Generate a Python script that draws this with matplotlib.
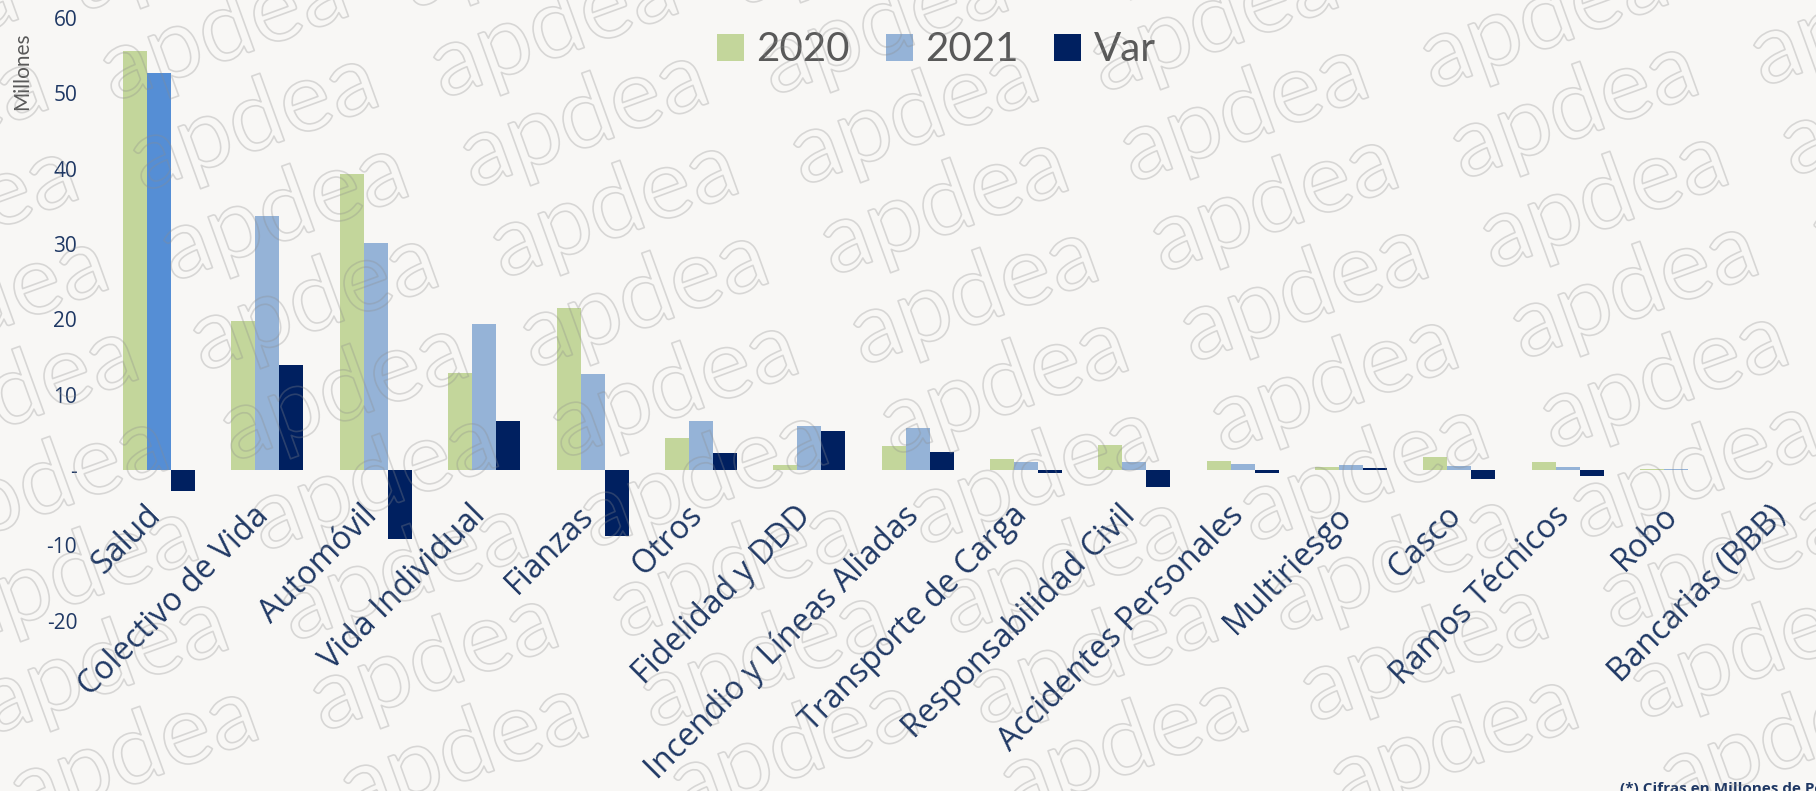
import numpy as np
import matplotlib
matplotlib.use("Agg")
import matplotlib.pyplot as plt
import matplotlib.patheffects as pe
from matplotlib.transforms import ScaledTranslation

# data (millones)
categorias = ["Salud", "Colectivo de Vida", "Automóvil", "Vida Individual", "Fianzas",
              "Otros", "Fidelidad y DDD", "Incendio y Líneas Aliadas", "Transporte de Carga",
              "Responsabilidad Civil", "Accidentes Personales", "Multiriesgo", "Casco",
              "Ramos Técnicos", "Robo", "Bancarias (BBB)"]
v2020 = [55.6, 19.8, 39.3, 12.9, 21.5, 4.3, 0.66, 3.2, 1.46, 3.3, 1.2, 0.35, 1.77, 1.1, 0.18, 0.03]
v2021 = [52.7, 33.7, 30.1, 19.4, 12.8, 6.5, 5.84, 5.6, 1.06, 1.06, 0.8, 0.66, 0.58, 0.35, 0.09, 0.06]
var = [-2.8, 13.9, -9.1, 6.5, -8.7, 2.3, 5.18, 2.4, -0.44, -2.2, -0.35, 0.25, -1.2, -0.75, -0.06, 0.03]

yticks = [60, 50, 40, 30, 20, 10, 0, -10, -20]
ylabels = ["60", "50", "40", "30", "20", "10", "-", "-10", "-20"]

bg = "#F8F7F5"
c2020 = "#C3D69B"
c2021 = "#95B3D7"
csalud = "#558ED5"
cvar = "#002060"
navy = "#1F3864"

fig = plt.figure(figsize=(18.16, 7.91), dpi=100, facecolor=bg)
ax = fig.add_axes([0.0578, 0.2154, 0.9422, 0.7616])
ax.set_facecolor(bg)

x = np.arange(len(categorias))
w = 0.2215
ax.bar(x - w, v2020, w, color=c2020, label="2020", zorder=2)
b21 = ax.bar(x, v2021, w, color=c2021, label="2021", zorder=2)
ax.bar(x + w, var, w, color=cvar, label="Var", zorder=2)
b21.patches[0].set_facecolor(csalud)  # Salud resaltado

ax.set_xlim(-0.5, -0.5 + 1711 / 108.35)
ax.set_ylim(-20, 60)
for s in ax.spines.values():
    s.set_visible(False)
ax.spines["bottom"].set_position(("data", 0))

ax.set_xticks(x, categorias, rotation=45, ha="right")
ax.tick_params(axis="x", length=0, pad=21, labelsize=23, labelcolor=navy)
ax.set_yticks(yticks, ylabels)
ax.tick_params(axis="y", length=0, pad=20, labelsize=15, labelcolor=navy)
shift = ScaledTranslation(6 / 72, 0, fig.dpi_scale_trans)
for t in ax.get_xticklabels():
    t.set_family("Open Sans")
    t.set_transform(t.get_transform() + shift)
for t in ax.get_yticklabels():
    t.set_family("Open Sans")

fig.text(22 / 1816, 1 - 71 / 791, "Millones", rotation=90, ha="center", va="center",
         color="#595959", fontsize=15, family="Lato")

# legend
leg = ax.legend(loc="center", bbox_to_anchor=(0.5155, 0.937), bbox_transform=fig.transFigure,
                ncol=3, frameon=False, prop={"family": "Lato", "size": 29},
                handlelength=0.67, handleheight=0.67, handletextpad=0.3, columnspacing=0.9)
leg.legend_handles[1].set_facecolor(c2021)
for t in leg.get_texts():
    t.set_color("#595959")

fig.text(1620 / 1816, -0.003, "(*) Cifras en Millones de Pesos", fontsize=11,
         weight="bold", color=navy, family="Open Sans", va="baseline")

# marca de agua
stroke = [pe.Stroke(linewidth=1.2, foreground=(0.55, 0.55, 0.55, 0.3))]
for i in range(-10, 10):
    for j in range(-6, 8):
        px = 1463 + i * 30 + j * 330
        py = 180 + i * 90 - j * 3
        if -250 < px < 1850 and -60 < py < 900:
            fig.text(px / 1816, 1 - py / 791, "apdea", rotation=20, rotation_mode="anchor",
                     fontsize=70, family="Lato", color=(0, 0, 0, 0),
                     path_effects=stroke, ha="left", va="baseline", zorder=5)

fig.savefig("out.png", dpi=100, facecolor=bg)
